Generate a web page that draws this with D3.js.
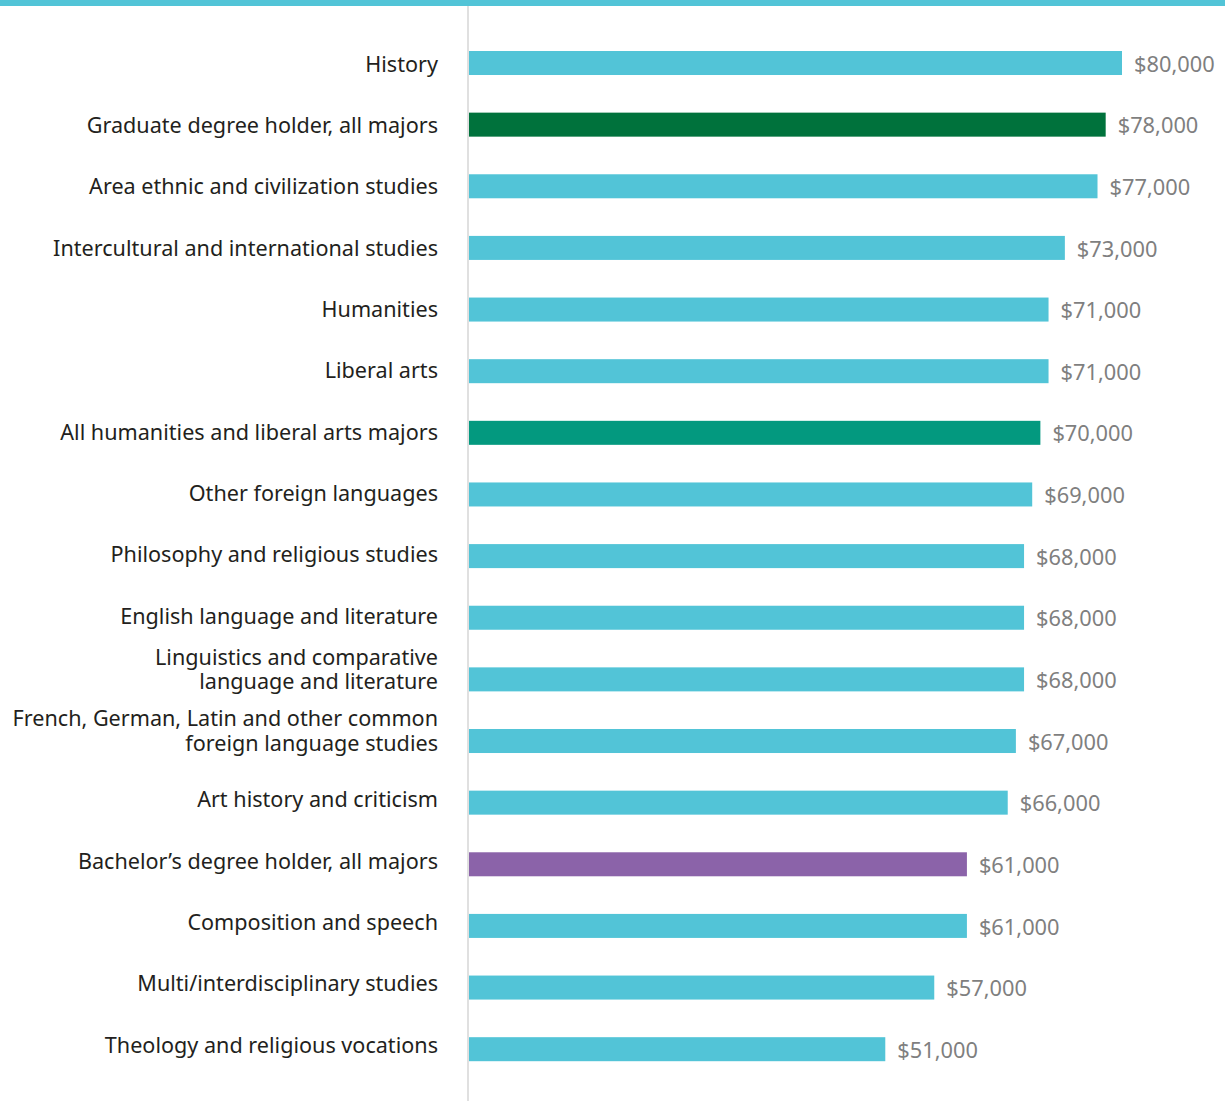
<!DOCTYPE html>
<html><head><meta charset="utf-8">
<script src="https://cdn.jsdelivr.net/npm/d3@7"></script>
<style>body{margin:0;background:#fff}svg{display:block}</style>
</head><body>
<script>
const categories = [
  "History",
  "Graduate degree holder, all majors",
  "Area ethnic and civilization studies",
  "Intercultural and international studies",
  "Humanities",
  "Liberal arts",
  "All humanities and liberal arts majors",
  "Other foreign languages",
  "Philosophy and religious studies",
  "English language and literature",
  "Linguistics and comparative\nlanguage and literature",
  "French, German, Latin and other common\nforeign language studies",
  "Art history and criticism",
  "Bachelor\u2019s degree holder, all majors",
  "Composition and speech",
  "Multi/interdisciplinary studies",
  "Theology and religious vocations"
];
const values = [80000,78000,77000,73000,71000,71000,70000,69000,68000,68000,68000,67000,66000,61000,61000,57000,51000];
const groups = ["major","graduate","major","major","major","major","all","major","major","major","major","major","major","bachelor","major","major","major"];
const groupColors = {major:"#52c4d7", graduate:"#00723c", all:"#03997f", bachelor:"#8b63a9"};

const W = 1225, H = 1101;
const svg = d3.select("body").append("svg").attr("width", W).attr("height", H);

const x0 = 469;
const x = d3.scaleLinear().domain([0, 80000]).range([x0, 1122]);
const y = d3.scaleBand().domain(categories).range([32.2, 1080]).paddingInner(0.6105).paddingOuter(0.305);

// top border
svg.append("rect").attr("x",0).attr("y",0).attr("width",W).attr("height",6).attr("fill","#52c4d7");
// vertical axis line
svg.append("rect").attr("x",467).attr("y",6).attr("width",2).attr("height",H-6).attr("fill","#e0e0e0");

const font = "'Noto Sans', sans-serif";
const rows = svg.append("g").selectAll("g").data(categories).join("g");

rows.append("rect")
  .attr("x", x0)
  .attr("y", (d) => y(d))
  .attr("width", (d,i) => x(values[i]) - x0)
  .attr("height", y.bandwidth())
  .attr("fill", (d,i) => groupColors[groups[i]]);

rows.append("text")
  .attr("x", (d,i) => x(values[i]) + 12)
  .attr("y", (d) => y(d) + y.bandwidth()/2 + 1)
  .attr("dy", "0.35em")
  .attr("font-family", font).attr("font-size", 21.8).attr("fill", "#7f7f7f")
  .attr("textLength", null)
  .text((d,i) => d3.format("$,")(values[i]));

rows.each(function(d, i){
  const lines = d.split("\n");
  const cy = y(d) + y.bandwidth()/2 + 1 - 0.31 * i;
  lines.forEach((ln, k) => {
    const off = lines.length > 1 ? (k === 0 ? -20 : 4.5) : 0;
    d3.select(this).append("text")
      .attr("text-anchor","end")
      .attr("font-family", font).attr("font-size", 21.6).attr("fill", "#231f20")
      .attr("x", 438).attr("y", cy + off).attr("dy","0.35em").text(ln);
  });
});
</script>
</body></html>
